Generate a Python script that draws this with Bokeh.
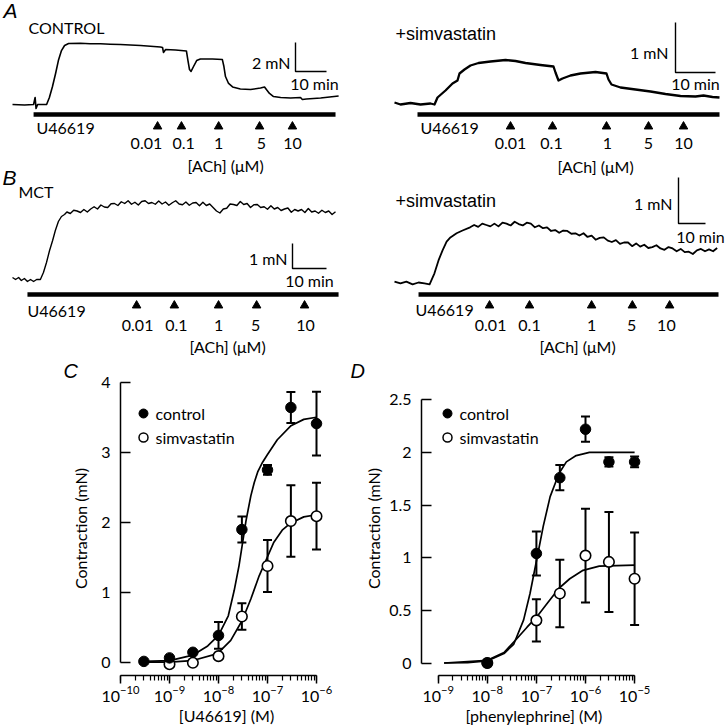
from bokeh.plotting import figure
from bokeh.models import Range1d, FixedTicker, CustomJSTickFormatter
from bokeh.layouts import row, column
from bokeh.embed import file_html
from bokeh.resources import INLINE
from bokeh.core.properties import value

# ======================= DATA =======================
ACH_LABELS = ["0.01", "0.1", "1", "5", "10"]

# ---- A, CONTROL: time (min) / tension (mN)
A1_t = [0.0, 3.9, 6.8, 7.3, 7.6, 8.1, 11.0, 11.9, 12.9, 13.9, 14.8, 15.8, 16.8, 18.1, 21.9, 25.0,
        28.4, 31.5, 34.8, 38.0, 41.3, 44.5, 47.7, 48.4, 48.7, 49.4, 52.6, 56.1, 56.6, 57.1, 57.6,
        58.4, 59.4, 60.6, 64.5, 67.7, 68.2, 68.7, 69.7, 71.0, 73.5, 76.8, 80.0, 81.3, 81.9, 82.9,
        84.2, 86.5, 89.7, 92.9, 93.5, 94.8, 99.4, 105.2]
A1_F = [0.0, -0.03, 0.0, 0.48, -0.28, 0.0, 0.0, 0.48, 1.24, 2.14, 3.03, 3.72, 4.07, 4.21, 4.22, 4.19,
        4.19, 4.16, 4.14, 4.10, 4.07, 4.02, 3.97, 3.93, 3.59, 3.79, 3.76, 3.69, 3.03, 2.41, 2.28,
        2.62, 3.03, 3.14, 3.14, 3.10, 2.62, 1.93, 1.45, 1.21, 1.07, 1.03, 1.14, 1.21, 1.03, 0.76,
        0.55, 0.48, 0.45, 0.48, 0.34, 0.38, 0.45, 0.59]
A1_bar = [6.8, 104.2]
A1_ach_t = [46.8, 54.5, 66.5, 79.7, 90.3]
A1_lab_t = [43.2, 55.2, 66.5, 80.3, 90.3]
A1_scale = [10, 2]

# ---- A, +simvastatin
A2_t = [0, 1.5, 4.0, 6.5, 9.0, 10.0, 10.75, 12.75, 14.5, 15.75, 16.25, 17.5, 19.0, 21.0, 24.0,
        27.75, 30.25, 32.75, 36.5, 39.75, 40.25, 41.0, 42.0, 44.0, 46.5, 50.25, 53.0, 53.5, 54.25,
        56.5, 60.25, 64.0, 67.75, 71.5, 75.25, 77.25, 79.5, 81.25]
A2_F = [0.02, -0.02, 0.01, -0.02, 0.0, -0.02, 0.12, 0.26, 0.40, 0.46, 0.60, 0.68, 0.76, 0.81, 0.84,
        0.87, 0.85, 0.81, 0.77, 0.74, 0.62, 0.46, 0.50, 0.56, 0.60, 0.63, 0.60, 0.48, 0.38,
        0.32, 0.28, 0.24, 0.19, 0.15, 0.14, 0.16, 0.13, 0.12]
A2_bar = [5.75, 81.25]
A2_ach_t = [29.0, 39.5, 53.0, 63.5, 72.25]
A2_lab_t = [29.0, 39.25, 53.25, 63.5, 72.25]
A2_scale = [10, 1]

# ---- B, MCT
B1_t = [0, 0.9, 1.8, 2.6, 3.5, 4.4, 5.3, 6.2, 7.1, 8.2, 9.1, 10.0, 10.9, 11.8, 12.6, 13.5, 14.4, 15.3,
        16, 17, 18, 19, 20, 21, 22, 23, 24, 25, 26, 27, 28, 29, 30, 31, 32, 33, 34, 35, 36, 37, 38,
        39, 40, 41, 42, 43, 44, 45, 46, 47, 48, 49, 50, 51, 52, 53, 54, 55, 56, 57, 58, 59, 60, 61,
        62, 63, 64, 65, 66, 67, 68, 69, 70, 71, 72, 73, 74, 75, 76, 77, 78, 79, 80, 81, 82, 83, 84,
        85, 86, 87, 88, 89, 90, 91, 92, 93, 94, 95]
B1_F = [0.04, -0.04, 0.04, -0.08, 0.0, -0.12, -0.04, -0.12, -0.04, -0.04, 0.24, 0.64, 1.12, 1.52,
        1.92, 2.28, 2.48, 2.56,
        2.66, 2.60, 2.73, 2.70, 2.64, 2.76, 2.66, 2.78, 2.87, 2.78,
        2.94, 2.86, 2.84, 2.99, 3.00, 2.92, 3.07, 3.00, 3.11, 2.97,
        3.05, 2.94, 3.08, 3.11, 3.00, 3.04, 2.97, 3.10, 2.98, 3.06,
        2.93, 3.03, 3.11, 2.98, 2.95, 3.06, 2.93, 3.02, 3.04, 2.91,
        3.05, 2.92, 2.98, 2.84, 2.70, 2.62, 2.78, 2.81, 2.98, 2.96,
        2.92, 3.08, 2.96, 3.00, 2.84, 2.95, 2.96, 2.84, 2.87, 2.77,
        2.91, 2.78, 2.84, 2.72, 2.78, 2.82, 2.65, 2.76, 2.70, 2.76,
        2.64, 2.80, 2.66, 2.70, 2.61, 2.73, 2.64, 2.70, 2.56, 2.67]
B1_bar = [4.4, 95.9]
B1_ach_t = [36.5, 47.6, 60.6, 71.8, 85.9]
B1_lab_t = [36.8, 48.2, 60.6, 71.5, 86.2]
B1_scale = [10, 1]

# ---- B, +simvastatin
B2_t = [0, 2.2, 4.4, 6.7, 8.9, 11.1, 13.0, 14.8, 16.3, 17.8, 19.3, 20.7, 23.0, 25.2, 28.0,
        29.5, 31, 32.5, 34, 35.5, 37, 38.5, 40, 41.5, 43, 44.5, 46, 47.5, 49, 50.5, 52, 53.5, 55,
        56.5, 58, 59.5, 61, 62.5, 64, 65.5, 67, 68.5, 70, 71.5, 73, 74.5, 76, 77.5, 79, 80.5, 82,
        83.5, 85, 86.5, 88, 89.5, 91, 92.5, 94, 95.5, 97, 98.5, 100, 101.5, 103, 104.5, 106,
        107.5, 109, 110.5, 112, 113.5, 115, 116.5, 118, 119.5]
B2_F = [0.02, -0.02, 0.02, -0.04, 0.0, -0.02, -0.04, 0.20, 0.48, 0.70, 0.89, 0.98, 1.07, 1.13, 1.20,
        1.25, 1.21, 1.28, 1.25, 1.22, 1.28, 1.22, 1.30, 1.28, 1.24,
        1.32, 1.27, 1.24, 1.30, 1.28, 1.20, 1.24, 1.18, 1.20, 1.12,
        1.14, 1.08, 1.13, 1.12, 1.06, 1.07, 1.02, 1.07, 0.99, 1.02,
        0.93, 0.97, 0.98, 0.91, 0.88, 0.92, 0.84, 0.87, 0.87, 0.79,
        0.85, 0.78, 0.82, 0.75, 0.77, 0.81, 0.74, 0.71, 0.77, 0.74,
        0.68, 0.73, 0.66, 0.67, 0.62, 0.70, 0.73, 0.68, 0.72, 0.68, 0.75]
B2_bar = [8.9, 120.0]
B2_ach_t = [35.2, 50.0, 73.0, 88.1, 101.9]
B2_lab_t = [35.6, 50.0, 73.0, 87.8, 100.7]
B2_scale = [10, 1]

# ---- C: U46619 concentration-response
C_conc_ctrl = [3e-10, 1e-9, 3e-9, 1e-8, 3e-8, 1e-7, 3e-7, 1e-6]
C_ctrl = [0.02, 0.07, 0.15, 0.39, 1.90, 2.75, 3.64, 3.41]
C_ctrl_sem = [0.0, 0.0, 0.0, 0.19, 0.185, 0.07, 0.22, 0.455]
C_conc_sim = [1e-9, 3e-9, 1e-8, 3e-8, 1e-7, 3e-7, 1e-6]
C_sim = [-0.02, 0.0, 0.095, 0.66, 1.38, 2.02, 2.09]
C_sim_sem = [0.0, 0.0, 0.0, 0.19, 0.37, 0.51, 0.475]
C_fit_ctrl_logx = [-9.52, -9.0, -8.52, -8.22, -8.0, -7.8, -7.68, -7.58, -7.52, -7.44, -7.34, -7.27,
                   -7.2, -7.1, -7.0, -6.8, -6.52, -6.26, -6.0]
C_fit_ctrl_y = [0.02, 0.03, 0.11, 0.24, 0.39, 0.67, 1.03, 1.39, 1.66, 2.02, 2.38, 2.57,
                2.72, 2.86, 2.97, 3.18, 3.38, 3.47, 3.50]
C_fit_sim_logx = [-9.54, -9.0, -8.54, -8.02, -7.75, -7.52, -7.34, -7.17, -7.02, -6.87, -6.70,
                  -6.53, -6.26, -6.0]
C_fit_sim_y = [0.01, 0.01, 0.03, 0.13, 0.32, 0.60, 0.91, 1.24, 1.48, 1.72, 1.89, 1.99, 2.08, 2.11]
C_yticks = [0, 1, 2, 3, 4]

# ---- D: phenylephrine concentration-response
D_conc = [1e-8, 1e-7, 3e-7, 1e-6, 3e-6, 1e-5]
D_ctrl = [0.0, 1.04, 1.76, 2.22, 1.91, 1.91]
D_ctrl_sem = [0.0, 0.21, 0.12, 0.12, 0.045, 0.05]
D_sim = [0.0, 0.405, 0.66, 1.02, 0.96, 0.80]
D_sim_sem = [0.0, 0.20, 0.32, 0.445, 0.475, 0.44]
D_fit_ctrl_logx = [-8.88, -8.40, -8.0, -7.66, -7.46, -7.26, -7.13, -6.99, -6.86, -6.72, -6.54,
                   -6.39, -6.19, -5.92, -5.0]
D_fit_ctrl_y = [0.0, 0.003, 0.02, 0.09, 0.18, 0.41, 0.66, 0.99, 1.30, 1.58, 1.80, 1.91, 1.97,
                2.0, 2.0]
D_fit_sim_logx = [-8.88, -8.0, -7.66, -7.40, -7.19, -6.99, -6.79, -6.54, -6.32, -6.05, -5.72, -5.0]
D_fit_sim_y = [0.0, 0.025, 0.10, 0.23, 0.34, 0.44, 0.56, 0.71, 0.80, 0.88, 0.92, 0.93]
D_yticks = [0, 0.5, 1, 1.5, 2, 2.5]

# ======================= LAYOUT =======================
TOTAL_W = 725
TOP_H = 356
BOT_H = 727 - TOP_H
C_W = 345
D_W = TOTAL_W - C_W
SANS = "Lato"
ARIAL = "Liberation Sans"


def fs(px):
    return f"{px:.1f}px"


def txt(p, x, y, s, align="left", size=16, font=SANS, style="normal", **kw):
    p.text(x=[x], y=[y], text=[s], text_align=align, text_baseline="middle",
           text_font=value(font), text_font_size=fs(size), text_font_style=style,
           text_color="black", **kw)


# ----------------- traces (top) -----------------
top = figure(width=TOTAL_W, height=TOP_H, x_range=Range1d(0, TOTAL_W), y_range=Range1d(TOP_H, 0),
             x_axis_type=None, y_axis_type=None, toolbar_location=None, output_backend="svg",
             min_border=0, outline_line_color=None)

# panel geometry: x of t=0 (px), px per min, y of F=0 (px), px per mN
GEOM = {"A1": (12, 3.1, 104, 14.5), "A2": (394, 4.0, 103, 50.0),
        "B1": (12, 3.4, 278, 25.0), "B2": (394, 2.7, 282, 46.0)}
top.extra_x_ranges = {k: Range1d(-x0 / a, (TOTAL_W - x0) / a) for k, (x0, a, y0, b) in GEOM.items()}
top.extra_y_ranges = {k: Range1d((y0 - TOP_H) / b, y0 / b) for k, (x0, a, y0, b) in GEOM.items()}

PANELS = [
    dict(n="A1", t=A1_t, F=A1_F, lw=1.6, bar=A1_bar, ach=A1_ach_t, lab=A1_lab_t, sc=A1_scale,
         bar_y=114, arr_y=126, lab_y=143, u=(36, 127), corner=(295, 71), mN=(290, 62), mn=(314, 83),
         title=(225, 165)),
    dict(n="A2", t=A2_t, F=A2_F, lw=2.3, bar=A2_bar, ach=A2_ach_t, lab=A2_lab_t, sc=A2_scale,
         bar_y=114, arr_y=126, lab_y=143, u=(420, 127), corner=(675, 72), mN=(668, 52), mn=(695, 83),
         title=(595, 166)),
    dict(n="B1", t=B1_t, F=B1_F, lw=1.4, bar=B1_bar, ach=B1_ach_t, lab=B1_lab_t, sc=B1_scale,
         bar_y=294, arr_y=305, lab_y=325, u=(27, 310), corner=(292, 268), mN=(287, 258), mn=(309, 280),
         title=(227, 346)),
    dict(n="B2", t=B2_t, F=B2_F, lw=1.8, bar=B2_bar, ach=B2_ach_t, lab=B2_lab_t, sc=B2_scale,
         bar_y=294, arr_y=305, lab_y=325, u=(415, 309), corner=(678, 223), mN=(672, 203), mn=(700, 236),
         title=(577, 346)),
]

for P in PANELS:
    n = P["n"]
    x0, a, y0, b = GEOM[n]
    top.line(P["t"], P["F"], x_range_name=n, y_range_name=n, line_color="black",
             line_width=P["lw"], line_join="round")
    top.segment(x0=[P["bar"][0]], x1=[P["bar"][1]], y0=[P["bar_y"]], y1=[P["bar_y"]],
                x_range_name=n, line_color="black", line_width=4.5)
    top.scatter(P["ach"], [P["arr_y"]] * len(P["ach"]), marker="triangle", size=8.5,
                x_range_name=n, fill_color="black", line_color="black")
    top.text(x=P["lab"], y=[P["lab_y"]] * len(P["lab"]), text=ACH_LABELS, x_range_name=n,
             text_align="center", text_baseline="middle", text_font=value(SANS),
             text_font_size=fs(16), text_color="black")
    txt(top, P["u"][0], P["u"][1], "U46619")
    txt(top, P["title"][0], P["title"][1], "[ACh] (\u03bcM)", align="center")
    # scale bar
    ct = (P["corner"][0] - x0) / a
    cF = (y0 - P["corner"][1]) / b
    dt, dF = P["sc"]
    top.line([ct, ct, ct + dt], [cF + dF, cF, cF], x_range_name=n, y_range_name=n,
             line_color="black", line_width=1.4)
    txt(top, P["mN"][0], P["mN"][1], f"{dF} mN", align="right")
    txt(top, P["mn"][0], P["mn"][1], f"{dt} min", align="center")

txt(top, 3, 10, "A", size=21, font=ARIAL, style="italic")
txt(top, 28, 27, "CONTROL")
txt(top, 395, 33, "+simvastatin", size=18, font=ARIAL)
txt(top, 2, 177, "B", size=21, font=ARIAL, style="italic")
txt(top, 18, 191, "MCT")
txt(top, 395, 200, "+simvastatin", size=18, font=ARIAL)


# ----------------- concentration-response (bottom) -----------------
def dose_fig(width, frame_l, frame_r, ax_px, ax_log, dec_px, xbounds, zero_px, unit_px, yticks,
             ylab_standoff, xlabel, leg_x, leg_tx, letter, letter_x):
    T = 25
    B = BOT_H - 52
    xs = ax_log - (ax_px - frame_l) / dec_px
    xe = ax_log + (frame_r - ax_px) / dec_px
    ys = -(B - zero_px) / unit_px
    ye = (zero_px - T) / unit_px
    p = figure(width=width, height=BOT_H, x_axis_type="log",
               x_range=Range1d(10 ** xs, 10 ** xe), y_range=Range1d(ys, ye),
               toolbar_location=None, output_backend="svg", outline_line_color=None,
               min_border_left=frame_l, min_border_right=width - frame_r,
               min_border_top=T, min_border_bottom=BOT_H - B)
    p.title.text = letter
    p.title.align = "left"
    p.title.offset = letter_x - frame_l
    p.title.standoff = 0
    p.title.text_font = ARIAL
    p.title.text_font_style = "italic"
    p.title.text_font_size = fs(20)
    p.title.text_color = "black"
    p.grid.visible = False
    xa, ya = p.xaxis[0], p.yaxis[0]
    for ax in (xa, ya):
        ax.axis_line_width = 1.5
        ax.axis_line_color = "black"
        ax.major_tick_line_width = 1.5
        ax.major_tick_line_color = "black"
        ax.major_label_text_font = SANS
        ax.major_label_text_font_size = fs(16)
        ax.major_label_text_color = "black"
        ax.axis_label_text_font = SANS
        ax.axis_label_text_font_size = fs(16)
        ax.axis_label_text_font_style = "normal"
        ax.axis_label_text_color = "black"
    xa.bounds = xbounds
    xa.major_tick_in = 0
    xa.major_tick_out = 8
    xa.minor_tick_in = 0
    xa.minor_tick_out = 5
    xa.minor_tick_line_width = 1.2
    xa.minor_tick_line_color = "black"
    xa.major_label_standoff = 2
    xa.axis_label_standoff = 1
    xa.axis_label = xlabel
    ya.bounds = (yticks[0], yticks[-1])
    ya.ticker = FixedTicker(ticks=yticks)
    ya.formatter = CustomJSTickFormatter(code="return String(tick)")
    ya.major_tick_in = 10
    ya.major_tick_out = 0
    ya.minor_tick_line_color = None
    ya.major_label_standoff = 10
    ya.axis_label_standoff = ylab_standoff
    ya.axis_label = "Contraction (mN)"

    def lx(px):
        return 10 ** (ax_log + (px - ax_px) / dec_px)

    def vy(px):
        return (zero_px - px) / unit_px

    # legend (layout positions in canvas px of this figure)
    y1, y2 = 413 - TOP_H, 437 - TOP_H
    p.scatter([lx(leg_x)], [vy(y1)], marker="circle", size=9, fill_color="black",
              line_color="black")
    p.scatter([lx(leg_x)], [vy(y2)], marker="circle", size=9, fill_color="white",
              line_color="black", line_width=1.5)
    p.text(x=[lx(leg_tx), lx(leg_tx)], y=[vy(y1), vy(y2)], text=["control", "simvastatin"],
           text_align="left", text_baseline="middle", text_font=value(SANS),
           text_font_size=fs(16), text_color="black")
    return p


def errbars(p, xs, ys, es):
    xx = [x for x, e in zip(xs, es) if e > 0]
    lo = [y - e for y, e in zip(ys, es) if e > 0]
    hi = [y + e for y, e in zip(ys, es) if e > 0]
    p.segment(x0=xx, y0=lo, x1=xx, y1=hi, line_width=2, line_color="black")
    for yy in (lo, hi):
        p.scatter(xx, yy, marker="dash", size=9, line_width=2, line_color="black")


def draw_series(p, cx_ctrl, ctrl, ctrl_e, cx_sim, sim, sim_e, fc_lx, fc_y, fs_lx, fs_y):
    errbars(p, cx_sim, sim, sim_e)
    errbars(p, cx_ctrl, ctrl, ctrl_e)
    p.line([10 ** v for v in fc_lx], fc_y, line_color="black", line_width=1.7)
    p.line([10 ** v for v in fs_lx], fs_y, line_color="black", line_width=1.7)
    p.scatter(cx_sim, sim, marker="circle", size=10.5, fill_color="white", line_color="black",
              line_width=1.6)
    p.scatter(cx_ctrl, ctrl, marker="circle", size=10.5, fill_color="black", line_color="black")


# C  (figure spans x 0..345 of the page)
pc = dose_fig(C_W, 120, C_W - 13, 120, -10, 49.0, (1e-10, 1e-6),
              662.3 - TOP_H, 70.15, C_yticks, 8, "[U46619] (M)", 143, 155, "C", 63)
draw_series(pc, C_conc_ctrl, C_ctrl, C_ctrl_sem, C_conc_sim, C_sim, C_sim_sem,
            C_fit_ctrl_logx, C_fit_ctrl_y, C_fit_sim_logx, C_fit_sim_y)

# D  (figure spans x 345..725 of the page)
pd_ = dose_fig(D_W, 421 - C_W, D_W - 75, 437.7 - C_W, -9, 49.1, (1e-9, 1e-5),
               662.5 - TOP_H, 105.3, D_yticks, 3, "[phenylephrine]  (M)",
               447 - C_W, 459 - C_W, "D", 350 - C_W)
draw_series(pd_, D_conc, D_ctrl, D_ctrl_sem, D_conc, D_sim, D_sim_sem,
            D_fit_ctrl_logx, D_fit_ctrl_y, D_fit_sim_logx, D_fit_sim_y)

layout = column(top, row(pc, pd_, spacing=0), spacing=0)
open("out.html", "w").write(file_html(layout, INLINE, "Figure"))
